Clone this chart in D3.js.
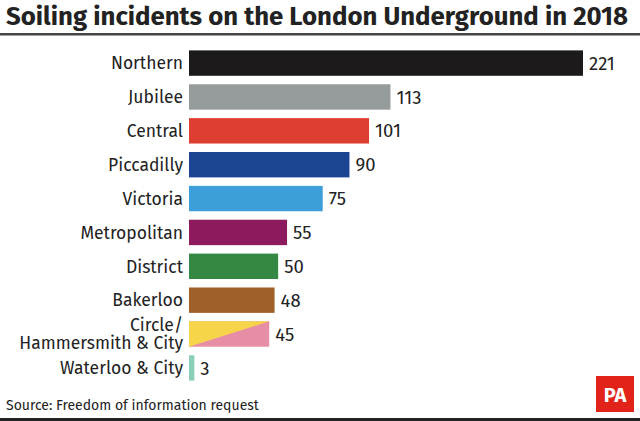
<!DOCTYPE html><html><head><meta charset="utf-8">
<script src="https://cdn.jsdelivr.net/npm/d3@7"></script>
<style>body{margin:0;background:#fff}</style></head><body><svg id="c" width="640" height="421"></svg>
<script>
const lines=["Northern","Jubilee","Central","Piccadilly","Victoria","Metropolitan","District","Bakerloo","Circle/\nHammersmith & City","Waterloo & City"];
const values=[221,113,101,90,75,55,50,48,45,3];
const colors=["#1d1a1b","#969c9c","#dd3e31","#1b4593","#3d9fda","#8d1a5c","#348844","#a0602a","split","#8ccfb7"];
const svg=d3.select("#c"),F="'Fira Sans','Open Sans',sans-serif";
svg.append("text").attr("x",6).attr("y",25).attr("font-family",F).attr("font-weight",700).attr("font-size",26).attr("fill","#222").attr("textLength",622).attr("lengthAdjust","spacingAndGlyphs").text("Soiling incidents on the London Underground in 2018");
svg.append("rect").attr("x",0).attr("y",33).attr("width",640).attr("height",2.5).attr("fill","#444");
svg.append("rect").attr("x",0).attr("y",418).attr("width",640).attr("height",3).attr("fill","#222");
const x=d3.scaleLinear().domain([0,221]).range([189,583]);
const y=d3.scaleBand().domain(lines).range([47,384]).paddingInner(0.25).paddingOuter(0.1);
lines.forEach((l,i)=>{
  const yy=y(l),h=y.bandwidth(),x0=x(0),x1=x(values[i]);
  if(colors[i]==="split"){
    svg.append("rect").attr("x",x0).attr("y",yy).attr("width",x1-x0).attr("height",h).attr("fill","#e78ea6");
    svg.append("path").attr("d",`M${x0},${yy}L${x1},${yy}L${x0},${yy+h}Z`).attr("fill","#f6d54a");
  } else svg.append("rect").attr("x",x0).attr("y",yy).attr("width",x1-x0).attr("height",h).attr("fill",colors[i]);
  svg.append("text").attr("x",x1+6).attr("y",yy+h/2).attr("dy","0.36em").attr("font-family",F).attr("font-size",18.5).attr("fill","#222").text(values[i]);
  const parts=l.split("\n");
  parts.forEach((p,j)=>svg.append("text").attr("text-anchor","end").attr("x",183).attr("font-family",F).attr("font-size",17.5).attr("fill","#222")
    .attr("y",yy+h/2+(j-(parts.length-1)/2)*18).attr("dy","0.36em").text(p));
});
svg.append("text").attr("x",6).attr("y",410).attr("font-family",F).attr("font-size",14).attr("fill","#222").text("Source: Freedom of information request");
svg.append("rect").attr("x",596).attr("y",376).attr("width",38).attr("height",36).attr("fill","#e2231a");
svg.append("text").attr("x",615).attr("y",402).attr("text-anchor","middle").attr("font-family",F).attr("font-weight",700).attr("font-size",20).attr("fill","#fff").text("PA");
</script></body></html>
